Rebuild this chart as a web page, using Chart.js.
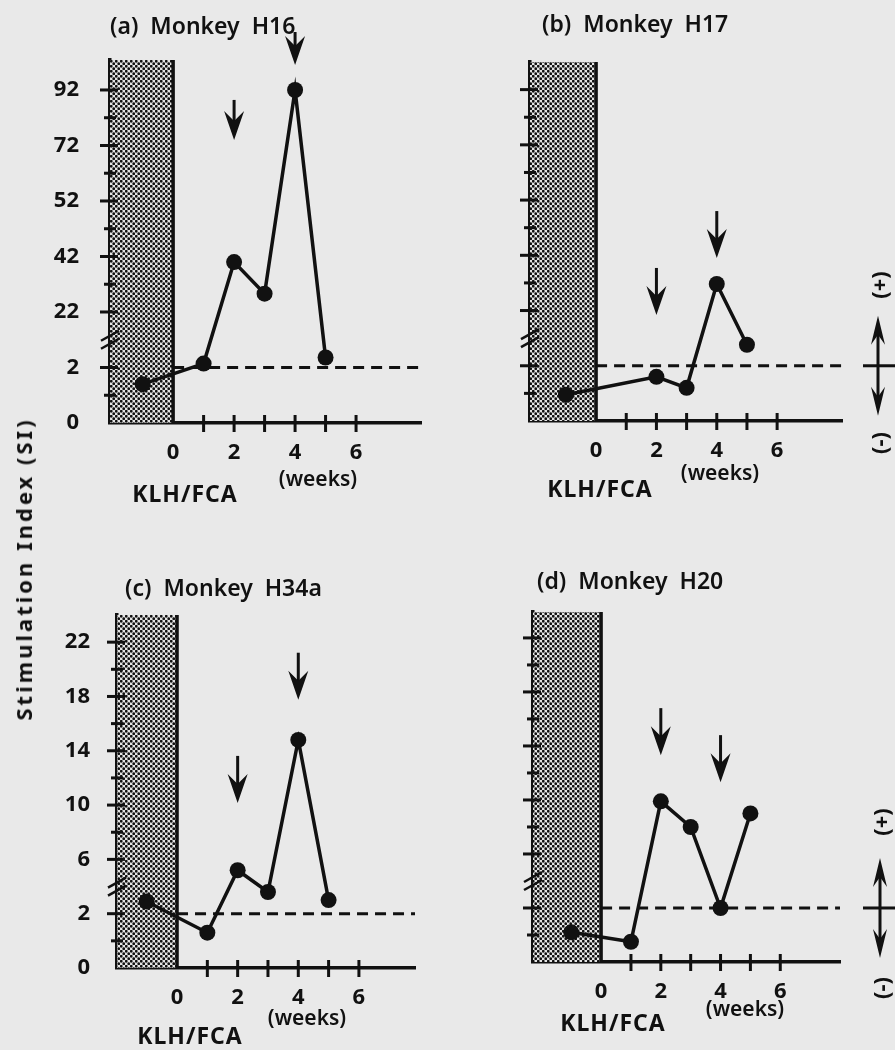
<!DOCTYPE html>
<html>
<head>
<meta charset="utf-8">
<script src="https://cdn.jsdelivr.net/npm/chart.js@4.4.0/dist/chart.umd.min.js"></script>
<style>
  body { margin: 0; background: #e9e9e9; }
  #page { position: relative; width: 895px; height: 1050px; background: #e9e9e9; overflow: hidden;
          font-family: "Noto Sans", sans-serif; color: #111; }
  canvas { position: absolute; }
  .t { position: absolute; white-space: pre; line-height: 1; }
  .c { transform: translate(-50%, -50%); }
  .r { transform: translate(-50%, -50%) rotate(-90deg); }
  .title { font-size: 23px; font-weight: 600; transform: translateY(-50%); }
  .klh { font-size: 23px; font-weight: 700; letter-spacing: 1px; }
  .wk { font-size: 21px; font-weight: 600; }
  .sign { font-size: 22px; font-weight: 700; }
</style>
</head>
<body>
<div id="page">
  <canvas id="cA" width="447" height="520" style="left:0;top:0"></canvas>
  <canvas id="cB" width="448" height="520" style="left:447px;top:0"></canvas>
  <canvas id="cC" width="447" height="530" style="left:0;top:520px"></canvas>
  <canvas id="cD" width="448" height="530" style="left:447px;top:520px"></canvas>

  <div class="t title" style="left:110px;top:25px">(a)  Monkey  H16</div>
  <div class="t title" style="left:542px;top:23px">(b)  Monkey  H17</div>
  <div class="t title" style="left:125px;top:587px">(c)  Monkey  H34a</div>
  <div class="t title" style="left:537px;top:580px">(d)  Monkey  H20</div>

  <div class="t c klh" style="left:185px;top:493px">KLH/FCA</div>
  <div class="t c klh" style="left:600px;top:488px">KLH/FCA</div>
  <div class="t c klh" style="left:190px;top:1035px">KLH/FCA</div>
  <div class="t c klh" style="left:613px;top:1022px">KLH/FCA</div>

  <div class="t c wk" style="left:318px;top:478px">(weeks)</div>
  <div class="t c wk" style="left:720px;top:472px">(weeks)</div>
  <div class="t c wk" style="left:307px;top:1017px">(weeks)</div>
  <div class="t c wk" style="left:745px;top:1008px">(weeks)</div>

  <div class="t r" style="left:23px;top:569px;font-size:22px;font-weight:700;letter-spacing:3px">Stimulation Index (SI)</div>

  <div class="t r sign" style="left:878px;top:285px">(+)</div>
  <div class="t r sign" style="left:878px;top:443px">(-)</div>
  <div class="t r sign" style="left:880px;top:822px">(+)</div>
  <div class="t r sign" style="left:880px;top:988px">(-)</div>
</div>
<script>
// weeks after KLH/FCA immunisation (week -1 = pre-immune sample)
const weeksH16 = [-1, 1, 2, 3, 4, 5];
const siH16 = [1.4, 3.4, 40, 28.6, 92, 5.6];
const weeksH17 = [-1, 2, 3, 4, 5];
const siH17 = [0.95, 1.6, 1.2, 31.6, 9.6];
const weeksH34a = [-1, 1, 2, 3, 4, 5];
const siH34a = [2.9, 1.3, 5.2, 3.6, 14.8, 3.0];
const weeksH20 = [-1, 1, 2, 3, 4, 5];
const siH20 = [1.1, 0.75, 9.9, 8.0, 2.0, 9.0];

// y tick labels, drawn equally spaced (broken axis)
const yTicksTop = [0, 2, 22, 42, 52, 72, 92];
const yTicksBottom = [0, 2, 6, 10, 14, 18, 22];
const xTickLabels = [0, 2, 4, 6];
const threshold = 2;

// SI value -> position on the equally spaced tick axis
function toAxis(v, ticks) {
    for (let i = 0; i < ticks.length - 1; i++) {
        if (v <= ticks[i + 1] || i === ticks.length - 2) {
            return i + (v - ticks[i]) / (ticks[i + 1] - ticks[i]);
        }
    }
}

function makeStipple(ctx) {
    const c = document.createElement("canvas");
    c.width = 5; c.height = 5;
    const g = c.getContext("2d");
    g.fillStyle = "#e4e4e4";
    g.fillRect(0, 0, 5, 5);
    g.fillStyle = "#111";
    [[1.25, 1.25], [3.75, 3.75]].forEach(([x, y]) => {
        g.beginPath(); g.arc(x, y, 1.4, 0, Math.PI * 2); g.fill();
    });
    return ctx.createPattern(c, "repeat");
}

function arrow(ctx, x, yTip, len, dir, hw) {
    // dir = 1 points down, -1 points up
    ctx.lineWidth = 3;
    ctx.beginPath();
    ctx.moveTo(x, yTip - dir * len);
    ctx.lineTo(x, yTip - dir * 14);
    ctx.stroke();
    ctx.beginPath();
    ctx.moveTo(x, yTip);
    ctx.lineTo(x - hw, yTip - dir * 29);
    ctx.lineTo(x, yTip - dir * 19);
    ctx.lineTo(x + hw, yTip - dir * 29);
    ctx.closePath();
    ctx.fill();
}

const deco = {
    id: "deco",
    beforeDatasetsDraw(chart) {
        const { ctx, chartArea, scales } = chart;
        const x0 = scales.x.getPixelForValue(0);
        ctx.save();
        ctx.fillStyle = makeStipple(ctx);
        ctx.fillRect(chartArea.left, chartArea.top, x0 - chartArea.left, chartArea.bottom - chartArea.top);
        ctx.strokeStyle = "#111";
        ctx.lineWidth = 3.5;
        ctx.beginPath();
        ctx.moveTo(x0, chartArea.top);
        ctx.lineTo(x0, chartArea.bottom);
        ctx.stroke();
        ctx.restore();
    },
    afterDraw(chart) {
        const { ctx, chartArea, scales } = chart;
        const p = chart.options.plugins.deco;
        const xs = scales.x, ys = scales.y;
        const left = chartArea.left;
        ctx.save();
        ctx.strokeStyle = "#111";
        ctx.fillStyle = "#111";
        ctx.lineWidth = 3;
        // y tick marks crossing the axis, minor ones at half steps
        for (let i = 1; i < p.yTicks.length; i++) {
            const y = ys.getPixelForValue(i);
            ctx.beginPath(); ctx.moveTo(left - 10, y); ctx.lineTo(left + 8, y); ctx.stroke();
        }
        for (let i = 0; i < p.yTicks.length - 1; i++) {
            if (i === 1) continue;
            const y = ys.getPixelForValue(i + 0.5);
            ctx.beginPath(); ctx.moveTo(left - 6, y); ctx.lineTo(left + 6, y); ctx.stroke();
        }
        // axis break marks
        const yb = ys.getPixelForValue(1.5);
        ctx.lineWidth = 2.5;
        [-4, 4].forEach(d => {
            ctx.beginPath();
            ctx.moveTo(left - 9, yb + d + 5);
            ctx.lineTo(left + 9, yb + d - 5);
            ctx.stroke();
        });
        // x tick marks at each week
        ctx.lineWidth = 3;
        for (let w = 1; w <= 6; w++) {
            const x = xs.getPixelForValue(w);
            ctx.beginPath(); ctx.moveTo(x, chartArea.bottom - 8); ctx.lineTo(x, chartArea.bottom + 9); ctx.stroke();
        }
        // booster arrows
        p.arrows.forEach(([w, tip, len]) => {
            arrow(ctx, xs.getPixelForValue(w), ys.getPixelForValue(tip), len, 1, 10);
        });
        // (+)/(-) indicator on the right
        if (p.side) {
            const yt = ys.getPixelForValue(toAxis(threshold, p.yTicks));
            ctx.fillRect(chart.width - 32, yt - 1.5, 32, 3);
            arrow(ctx, p.side, yt - 50, 50, -1, 7);
            arrow(ctx, p.side, yt + 50, 50, 1, 7);
        }
        ctx.restore();
    }
};

const panels = [
    { el: "cA", w: 447, h: 520, left: 110, top: 60, right: 421, bottom: 423,
      xMin: -2.07, xMax: 8.13, yMax: 6.54, weeks: weeksH16, si: siH16, yTicks: yTicksTop,
      showY: true, yPad: 31, arrows: [[2, 5.1, 40], [4, 6.45, 33]], side: 0 },
    { el: "cB", w: 448, h: 520, left: 83, top: 62, right: 395, bottom: 421,
      xMin: -2.19, xMax: 8.15, yMax: 6.5, weeks: weeksH17, si: siH17, yTicks: yTicksTop,
      showY: false, yPad: 31, arrows: [[2, 1.92, 47], [4, 2.95, 47]], side: 431 },
    { el: "cC", w: 447, h: 530, left: 117, top: 95, right: 415, bottom: 448,
      xMin: -1.98, xMax: 7.85, yMax: 6.5, weeks: weeksH34a, si: siH34a, yTicks: yTicksBottom,
      showY: true, yPad: 27, arrows: [[2, 3.04, 47], [4, 4.94, 47]], side: 0 },
    { el: "cD", w: 448, h: 530, left: 86, top: 92, right: 393, bottom: 442,
      xMin: -2.28, xMax: 8.0, yMax: 6.48, weeks: weeksH20, si: siH20, yTicks: yTicksBottom,
      showY: false, yPad: 27, arrows: [[2, 3.83, 47], [4, 3.33, 47]], side: 433 }
];

const tickFont = { family: "Noto Sans", size: 22, weight: "bold" };

panels.forEach(p => {
    const tPos = toAxis(threshold, p.yTicks);
    new Chart(document.getElementById(p.el), {
        type: "line",
        data: {
            datasets: [{
                data: p.weeks.map((w, i) => ({ x: w, y: toAxis(p.si[i], p.yTicks) })),
                borderColor: "#111",
                borderWidth: 3.5,
                pointRadius: 8,
                pointBackgroundColor: "#111",
                pointBorderWidth: 0,
                tension: 0
            }, {
                data: [{ x: 0, y: tPos }, { x: p.xMax, y: tPos }],
                borderColor: "#111",
                borderWidth: 3,
                borderDash: [11, 7],
                pointRadius: 0
            }]
        },
        options: {
            responsive: false,
            animation: false,
            events: [],
            layout: { padding: { left: 0, top: p.top, right: p.w - p.right, bottom: p.h - p.bottom - 60 } },
            plugins: {
                legend: { display: false },
                tooltip: { enabled: false },
                deco: p
            },
            scales: {
                x: {
                    type: "linear",
                    min: p.xMin,
                    max: p.xMax,
                    grid: { display: false, drawTicks: false },
                    border: { display: true, color: "#111", width: 3.5 },
                    afterBuildTicks: s => { s.ticks = xTickLabels.map(v => ({ value: v })); },
                    afterFit: s => { s.height = 60; },
                    ticks: { autoSkip: false, maxRotation: 0, padding: 17, color: "#111", font: tickFont }
                },
                y: {
                    type: "linear",
                    min: 0,
                    max: p.yMax,
                    grid: { display: false, drawTicks: false },
                    border: { display: true, color: "#111", width: 3.5 },
                    afterBuildTicks: s => { s.ticks = p.yTicks.map((_, i) => ({ value: i })); },
                    afterFit: s => { s.width = p.left; },
                    ticks: {
                        display: p.showY,
                        autoSkip: false,
                        padding: p.yPad,
                        color: "#111",
                        font: tickFont,
                        callback: v => p.yTicks[v]
                    }
                }
            }
        },
        plugins: [deco]
    });
});
</script>
</body>
</html>
